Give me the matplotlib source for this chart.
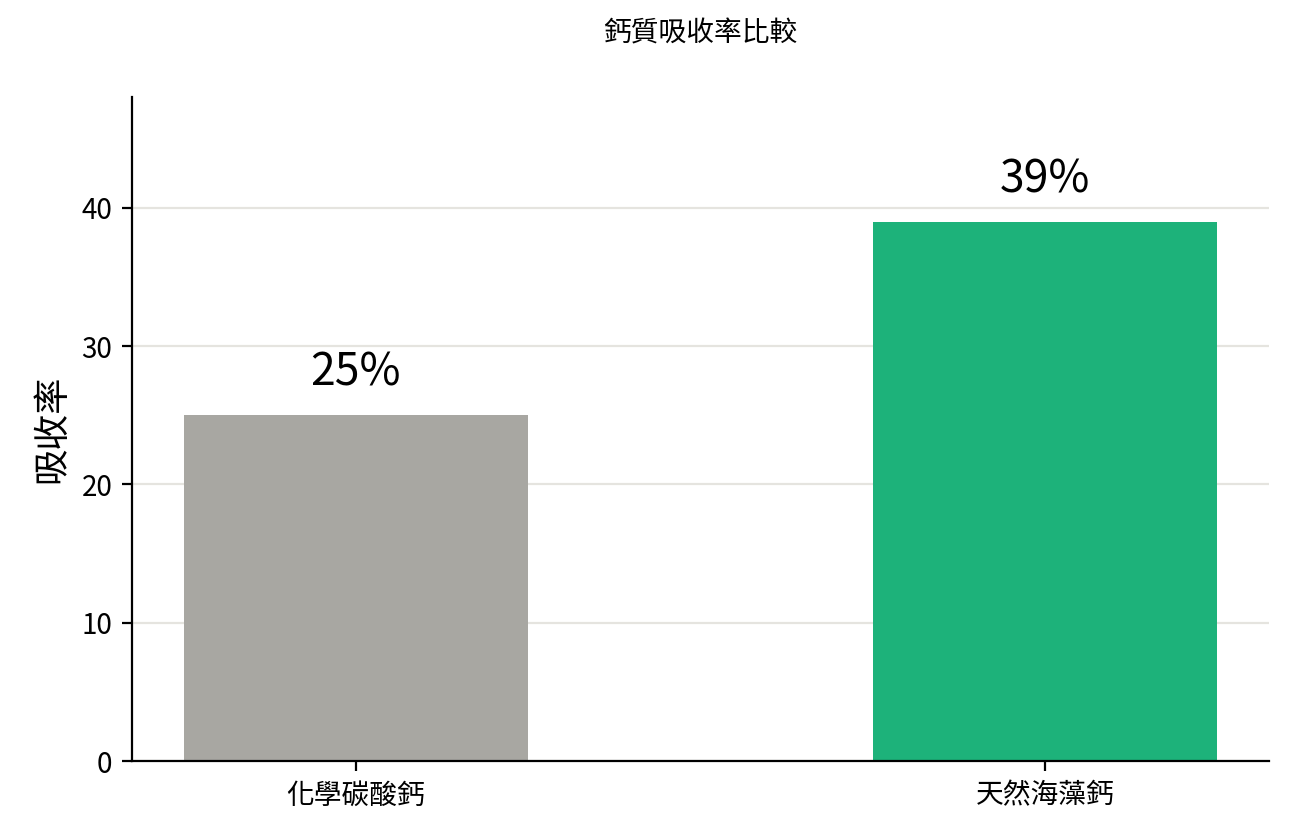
import matplotlib
matplotlib.use('Agg')
import matplotlib.pyplot as plt

plt.rcParams['font.family'] = ['Noto Sans CJK TC', 'DejaVu Sans']

# 資料
categories = ['化學碳酸鈣', '天然海藻鈣']
absorption = [25, 39]
value_labels = ['25%', '39%']
bar_colors = ['#a8a7a2', '#1db27a']

fig = plt.figure(figsize=(6.5, 4.2), dpi=200)
ax = fig.add_axes([0.1015, 0.094, 0.8745, 0.7905])

x = range(len(categories))
ax.bar(x, absorption, width=0.5, color=bar_colors, zorder=2)
ax.set_xticks(list(x))
ax.set_xticklabels(categories, fontsize=10)
ax.set_ylim(0, 48)
ax.set_yticks([0, 10, 20, 30, 40])
ax.tick_params(axis='y', labelsize=10)
ax.set_ylabel('吸收率', fontsize=13)
ax.set_title('鈣質吸收率比較', fontsize=10, pad=20)

ax.grid(axis='y', color='#e5e4df', linewidth=0.8, zorder=0)
ax.set_axisbelow(True)
ax.spines['top'].set_visible(False)
ax.spines['right'].set_visible(False)

for i, (v, lab) in enumerate(zip(absorption, value_labels)):
    ax.text(i, v + 1.4, lab, ha='center', va='bottom', fontsize=16)

fig.savefig('out.png', dpi=200)
plt.close(fig)
